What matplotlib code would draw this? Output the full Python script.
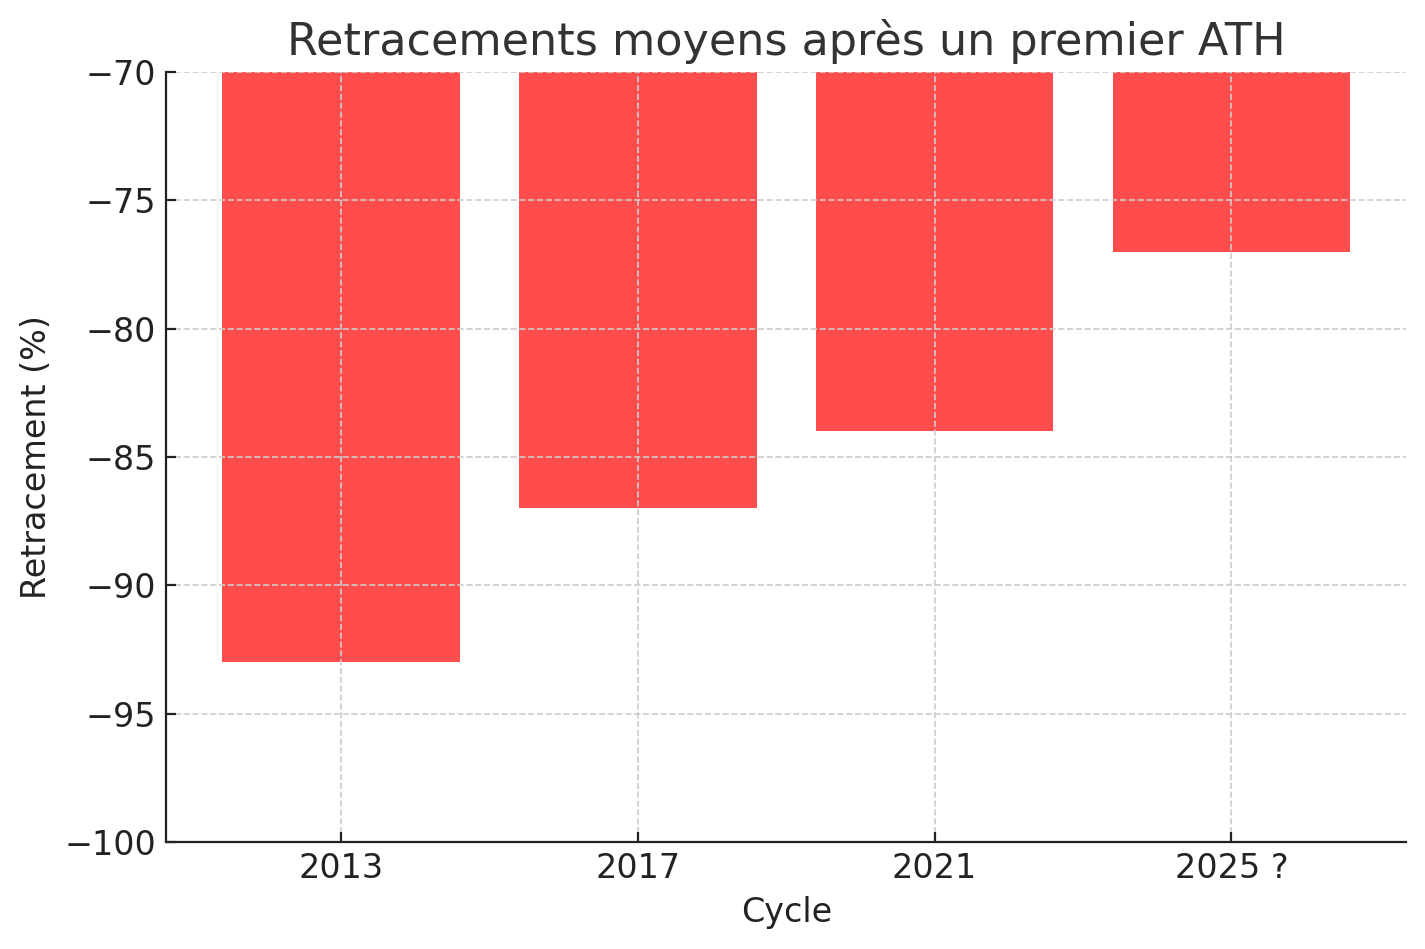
import matplotlib
matplotlib.use("Agg")
import matplotlib.pyplot as plt

cycles = ["2013", "2017", "2021", "2025 ?"]
retracements = [-93, -87, -84, -77]

fig = plt.figure(figsize=(7.125, 4.745), dpi=200)
ax = fig.add_axes([0.1165, 0.1127, 0.8705, 0.8114])
ax.bar(cycles, retracements, color="red", alpha=0.7, width=0.8)
ax.set_ylim(-100, -70)
ax.set_title("Retracements moyens après un premier ATH", fontsize=16, color="#333333")
ax.set_xlabel("Cycle", fontsize=12, color="#222222")
ax.set_ylabel("Retracement (%)", fontsize=12, color="#222222")
ax.tick_params(labelsize=12, colors="#222222", direction="in")
ax.grid(True, linestyle="--", color="#cccccc", linewidth=0.6)
for s in ["top", "right"]:
    ax.spines[s].set_visible(False)
for s in ["left", "bottom"]:
    ax.spines[s].set_color("#222222")
fig.savefig("out.png", dpi=200)
